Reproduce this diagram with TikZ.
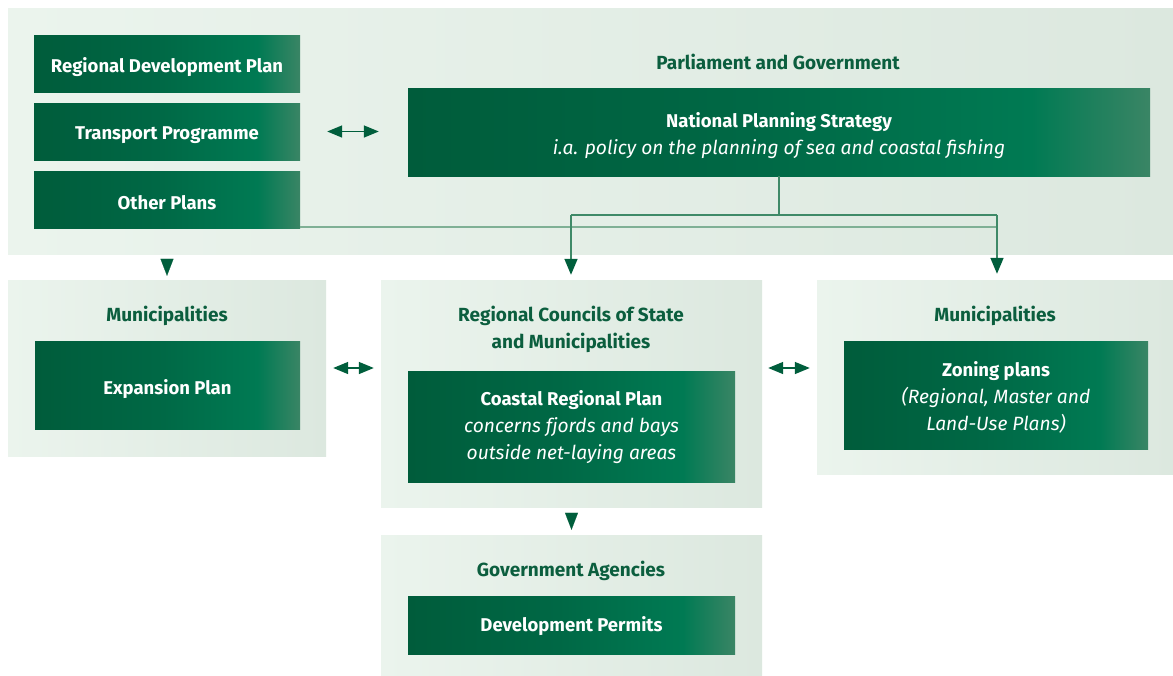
\documentclass[tikz,border=0pt]{standalone}
\usepackage{fontspec}
\setmainfont{Fira Sans}
\usetikzlibrary{arrows.meta}
\definecolor{gA}{HTML}{005C3B}
\definecolor{gB}{HTML}{006845}
\definecolor{gC}{HTML}{007A53}
\definecolor{gD}{HTML}{3A8565}
\definecolor{pL}{HTML}{EBF4ED}
\definecolor{pR}{HTML}{DCE8DF}
\definecolor{ttl}{HTML}{0B5E3E}
\definecolor{lnA}{HTML}{3F8A68}
\definecolor{lnB}{HTML}{7FB095}
\definecolor{tipc}{HTML}{005E3C}
\newcommand{\itl}{\fontsize{19.2}{27}\selectfont\itshape}
\pgfdeclarehorizontalshading{boxshade}{100bp}{color(0bp)=(gA); color(25bp)=(gA); color(48bp)=(gB); color(67bp)=(gC); color(75bp)=(gD); color(100bp)=(gD)}
\tikzset{
  panel/.style={rectangle, inner sep=0pt, left color=pL, right color=pR, draw=none},
  gbox/.style={rectangle, inner sep=0pt, shading=boxshade, draw=none},
  btext/.style={inner sep=0pt, text=white, align=center, font=\fontsize{18.5}{27}\selectfont},
  ttlstyle/.style={inner sep=0pt, text=ttl, align=center, font=\fontsize{19}{27}\selectfont\bfseries},
  conn/.style={draw=lnA, line width=1.6pt},
  connlight/.style={draw=lnB, line width=1.4pt},
  downtip/.style={-{Triangle[length=16pt,width=13pt,color=tipc]}},
  freedown/.style={draw=tipc, line width=0.1pt, -{Triangle[length=17pt,width=13pt,color=tipc]}},
  dbl/.style={draw=tipc, line width=1.5pt, {Triangle[length=15pt,width=12pt]}-{Triangle[length=15pt,width=12pt]}}
}
\begin{document}
\begin{tikzpicture}[x=1pt,y=-1pt]
\useasboundingbox[fill=white] (0,0) rectangle (1173,675);
% panels
\node[panel, minimum width=1165pt, minimum height=246pt] (top) at (590.5,131) {};
\node[panel, minimum width=318pt, minimum height=176pt] (muniL) at (167,368) {};
\node[panel, minimum width=381pt, minimum height=227pt] (mid) at (571.5,393.5) {};
\node[panel, minimum width=356pt, minimum height=194pt] (muniR) at (995,377) {};
\node[panel, minimum width=381pt, minimum height=140pt] (bot) at (571.5,605) {};
% titles
\node[ttlstyle] (tpg) at (778,61.5) {Parliament and Government};
\node[ttlstyle] (tml) at (167,316) {Municipalities};
\node[ttlstyle] (tmid) at (571,329.5) {Regional Councils of State\\and Municipalities};
\node[ttlstyle] (tmr) at (995,316) {Municipalities};
\node[ttlstyle] (tga) at (571,571) {Government Agencies};
% green boxes
\node[gbox, minimum width=266pt, minimum height=57pt] (rdp) at (167,63.5) {};
\node[gbox, minimum width=266pt, minimum height=57pt] (tp) at (167,131.5) {};
\node[gbox, minimum width=266pt, minimum height=57pt] (op) at (167,199.5) {};
\node[gbox, minimum width=742pt, minimum height=88pt] (nps) at (779,132) {};
\node[gbox, minimum width=265pt, minimum height=88pt] (exp) at (167.5,385) {};
\node[gbox, minimum width=327pt, minimum height=111pt] (crp) at (571.5,426.5) {};
\node[gbox, minimum width=304pt, minimum height=108pt] (zon) at (996,395) {};
\node[gbox, minimum width=327pt, minimum height=58pt] (dp) at (571.5,625) {};
% box texts
\node[btext] (rdpT) at (167,67.5) {\bfseries Regional Development Plan};
\node[btext] (tpT) at (167,135.5) {\bfseries Transport Programme};
\node[btext] (opT) at (167,202.5) {\bfseries Other Plans};
\node[btext] (npsT) at (779,136) {\bfseries National Planning Strategy\\\itl i.a. policy on the planning of sea and coastal fishing};
\node[btext] (expT) at (167.5,389.5) {\bfseries Expansion Plan};
\node[btext] (crpT) at (571.5,427) {\bfseries Coastal Regional Plan\\\itl concerns fjords and bays\\\itl outside net-laying areas};
\node[btext] (zonT) at (996,397) {\bfseries Zoning plans\\\itl (Regional, Master and\\\itl Land-Use Plans)};
\node[btext] (dpT) at (571.5,626.5) {\bfseries Development Permits};
% connectors
\coordinate (j) at (779,215);
\coordinate (jl) at (571,215);
\coordinate (jr) at (997,215);
\coordinate (opj) at (997,227);
\draw[connlight] (op.east |- opj) -- (opj);
\draw[conn] (nps.south) -- (j);
\draw[conn] (jl) -- (jr);
\draw[conn, downtip, shorten >=5pt] (jl) -- (jl |- mid.north);
\draw[conn, downtip, shorten >=6pt] (jr) -- (jr |- muniR.north);
\draw[freedown, shorten <=5pt, shorten >=4pt] (top.south -| muniL.north) -- (muniL.north);
\draw[freedown, shorten <=7pt, shorten >=5pt] (mid.south) -- (bot.north);
\draw[dbl, shorten <=27pt, shorten >=29pt] (tp.east) -- (tp.east -| nps.west);
\draw[dbl, shorten <=7pt, shorten >=7pt] (muniL.east) -- (muniL.east -| mid.west);
\draw[dbl, shorten <=6pt, shorten >=7pt] (mid.east |- muniL.east) -- (muniR.west |- muniL.east);
\end{tikzpicture}
\end{document}
